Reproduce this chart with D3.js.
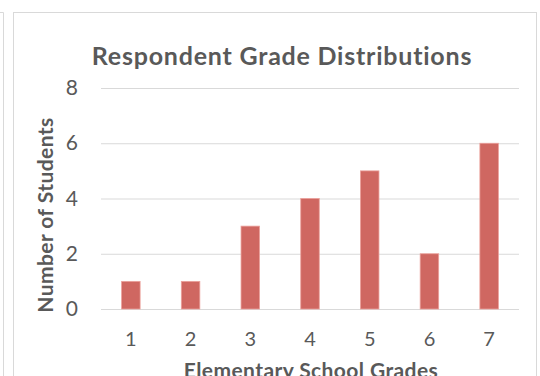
<!DOCTYPE html>
<html>
<head>
<meta charset="utf-8">
<script src="https://cdn.jsdelivr.net/npm/d3@7/dist/d3.min.js"></script>
<style>
  html, body { margin: 0; padding: 0; background: #fff; }
  svg { display: block; }
  text { font-family: Lato, "Open Sans", sans-serif; fill: #595959; }
</style>
</head>
<body>
<svg id="chart" width="540" height="376"></svg>
<script>
const categories = ["1", "2", "3", "4", "5", "6", "7"];
const values = [1, 1, 3, 4, 5, 2, 6];
const yTicks = [0, 2, 4, 6, 8];
const chartTitle = "Respondent Grade Distributions";
const xTitle = "Elementary School Grades";
const yTitle = "Number of Students";

const svg = d3.select("#chart");

// neighbouring frame edge + chart frame
svg.append("path").attr("d", "M0,12.5H3.5V376")
  .attr("fill", "none").attr("stroke", "#D9D9D9").attr("stroke-width", 1);
svg.append("rect").attr("x", 13.5).attr("y", 12.5).attr("width", 523).attr("height", 400)
  .attr("fill", "#fff").attr("stroke", "#D9D9D9").attr("stroke-width", 1);

const x = d3.scaleBand().domain(categories).range([101, 519])
  .paddingInner(0.69).paddingOuter(0.345);
const y = d3.scaleLinear().domain([0, 8]).range([309, 88]);

// gridlines
const yAxis = d3.axisLeft(y).tickValues(yTicks).tickSize(-(519 - 101)).tickPadding(23);
const gy = svg.append("g").attr("transform", "translate(101,0)").call(yAxis);
gy.select(".domain").remove();
gy.selectAll(".tick line").attr("stroke", "#D9D9D9").attr("stroke-width", 1.2);
gy.selectAll(".tick text").attr("font-size", 21).style("fill", "#595959");

// bars
svg.append("g").selectAll("rect").data(values).join("rect")
  .attr("x", (d, i) => x(categories[i]))
  .attr("y", d => y(d))
  .attr("width", x.bandwidth())
  .attr("height", d => y(0) - y(d))
  .attr("fill", "#CF6761")
  .attr("stroke", "#EBA09B")
  .attr("stroke-width", 0.8);

// x axis labels
const xAxis = d3.axisBottom(x).tickSize(0).tickPadding(23);
const gx = svg.append("g").attr("transform", "translate(0,309)").call(xAxis);
gx.select(".domain").remove();
gx.selectAll(".tick text").attr("font-size", 20).style("fill", "#595959");

function fitWidth(sel, target) {
  const w = sel.node().getComputedTextLength();
  const n = sel.text().length;
  if (n > 1) sel.attr("letter-spacing", (target - w) / (n - 1));
}

// titles
const t = svg.append("text").attr("x", 282).attr("y", 65).attr("text-anchor", "middle")
  .attr("font-size", 25).attr("font-weight", "bold").text(chartTitle);
fitWidth(t, 380);
const xt = svg.append("text").attr("x", 311).attr("y", 378).attr("text-anchor", "middle")
  .attr("font-size", 21).attr("font-weight", "bold").text(xTitle);
fitWidth(xt, 254);
const yt = svg.append("text").attr("transform", "translate(53,215) rotate(-90)")
  .attr("text-anchor", "middle")
  .attr("font-size", 21).attr("font-weight", "bold").text(yTitle);
fitWidth(yt, 195);
</script>
</body>
</html>
